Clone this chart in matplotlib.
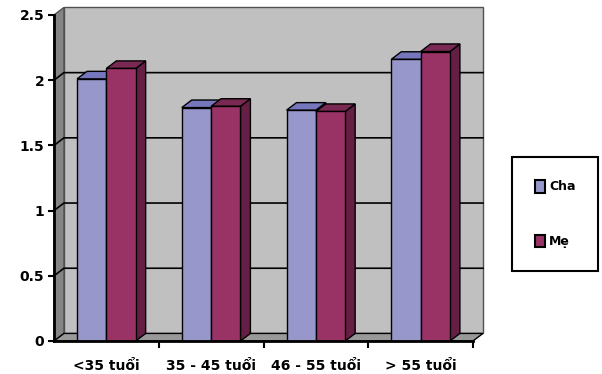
import matplotlib.pyplot as plt
from matplotlib.patches import Rectangle, Polygon, Patch

categories = ["<35 tuổi", "35 - 45 tuổi", "46 - 55 tuổi", "> 55 tuổi"]
series_names = ["Cha", "Mẹ"]
cha = [2.01, 1.79, 1.77, 2.16]
me = [2.09, 1.80, 1.76, 2.22]
y_ticks = [0, 0.5, 1, 1.5, 2, 2.5]
y_labels = ["0", "0.5", "1", "1.5", "2", "2.5"]

# (front, top, side) shades for each series
cha_colors = ("#9797CB", "#7676BC", "#5E5E9E")
me_colors = ("#993366", "#7A2952", "#661F44")

# depth of the fake 3d box, in data units
DX = 0.095
DY = 0.058
BAR_W = 0.28

plt.rcParams['font.family'] = ['DejaVu Sans']
fig = plt.figure(figsize=(6.02, 3.74), dpi=100)
ax = fig.add_axes([54 / 602, 33 / 374, 419 / 602, 326 / 374])
ax.set_xlim(-0.5, len(categories) - 0.5)
ax.set_ylim(0, 2.5)
x_lo, x_hi = ax.get_xlim()
y_hi = ax.get_ylim()[1]

# walls and floor
ax.add_patch(Rectangle((x_lo + DX, DY), x_hi - x_lo, y_hi, facecolor="#C0C0C0",
                       edgecolor="#505050", lw=1, clip_on=False, zorder=0))
ax.add_patch(Polygon([(x_lo, 0), (x_lo + DX, DY), (x_lo + DX, y_hi + DY), (x_lo, y_hi)],
                     closed=True, facecolor="#858585", edgecolor="#505050", lw=1,
                     clip_on=False, zorder=0))
for v in y_ticks[1:-1]:
    ax.plot([x_lo, x_lo + DX, x_hi + DX], [v, v + DY, v + DY], color="black", lw=1.2,
            clip_on=False, zorder=1)
ax.add_patch(Polygon([(x_lo, 0), (x_hi, 0), (x_hi + DX, DY), (x_lo + DX, DY)],
                     closed=True, facecolor="#999999", edgecolor="black", lw=1,
                     clip_on=False, zorder=1))


def draw_bar(x0, h, colors):
    front, top, side = colors
    ax.add_patch(Polygon([(x0 + BAR_W, 0), (x0 + BAR_W + DX, DY), (x0 + BAR_W + DX, h + DY),
                          (x0 + BAR_W, h)], closed=True, facecolor=side, edgecolor="black",
                         lw=1, clip_on=False, zorder=3))
    ax.add_patch(Polygon([(x0, h), (x0 + BAR_W, h), (x0 + BAR_W + DX, h + DY), (x0 + DX, h + DY)],
                         closed=True, facecolor=top, edgecolor="black", lw=1,
                         clip_on=False, zorder=3))
    ax.bar(x0, h, width=BAR_W, align="edge", color=front, edgecolor="black", lw=1, zorder=3)


for i in range(len(categories)):
    draw_bar(i - BAR_W, cha[i], cha_colors)
    draw_bar(i, me[i], me_colors)

for s in ["top", "right"]:
    ax.spines[s].set_visible(False)
for s in ["left", "bottom"]:
    ax.spines[s].set_linewidth(2)
    ax.spines[s].set_zorder(4)

ax.set_yticks(y_ticks)
ax.set_yticklabels(y_labels, fontsize=10, fontweight="bold")
ax.tick_params(axis="y", length=4, width=1.5, pad=3)
ax.set_xticks(range(len(categories)))
ax.set_xticklabels(categories, fontsize=10, fontweight="bold")
ax.set_xticks([i + 0.5 for i in range(len(categories))], minor=True)
ax.tick_params(axis="x", which="major", length=0, pad=13)
ax.tick_params(axis="x", which="minor", length=5, width=1.5)

handles = [Patch(facecolor=cha_colors[0], edgecolor="black", lw=1.5),
           Patch(facecolor=me_colors[0], edgecolor="black", lw=1.5)]
leg = fig.legend(handles, series_names, loc="center", bbox_to_anchor=(555 / 602, 160 / 374),
                 prop={"size": 9, "weight": "bold"}, handlelength=0.85, handleheight=1.2,
                 handletextpad=0.3, labelspacing=3.3, borderpad=1.8, fancybox=False,
                 edgecolor="black", framealpha=1)
leg.get_frame().set_linewidth(1.5)

fig.savefig("out.png", dpi=100)
